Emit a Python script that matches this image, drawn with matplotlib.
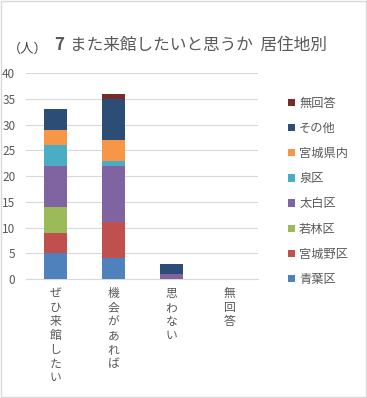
import numpy as np
import matplotlib.pyplot as plt
from matplotlib.patches import Rectangle

plt.rcParams['font.family'] = ['Noto Sans CJK JP', 'DejaVu Sans']

# Data
categories = ['ぜひ来館したい', '機会があれば', '思わない', '無回答']
series_names = ['青葉区', '宮城野区', '若林区', '太白区', '泉区', '宮城県内', 'その他', '無回答']
aoba = [5, 4, 0, 0]
miyagino = [4, 7, 0, 0]
wakabayashi = [5, 0, 0, 0]
taihaku = [8, 11, 1, 0]
izumi = [4, 1, 0, 0]
kennai = [3, 4, 0, 0]
sonota = [4, 8, 2, 0]
mukaito = [0, 1, 0, 0]
series_values = [aoba, miyagino, wakabayashi, taihaku, izumi, kennai, sonota, mukaito]
colors = ['#4F81BD', '#C0504D', '#9BBB59', '#8064A2', '#4BACC6', '#F79646', '#2C4D75', '#772C2A']

fig = plt.figure(figsize=(3.67, 3.98), dpi=100)
ax = fig.add_axes([0.072, 0.299, 0.632, 0.517])

x = np.arange(len(categories))
bottom = np.zeros(len(categories))
handles = []
for name, vals, c in zip(series_names, series_values, colors):
    h = ax.bar(x, vals, 0.4, bottom=bottom, color=c, label=name, zorder=3)
    handles.append(h)
    bottom += np.array(vals)

ax.set_xlim(-0.5, 3.5)
ax.set_ylim(0, 40)
ax.set_yticks(range(0, 41, 5))
ax.yaxis.grid(True, color='#D9D9D9', linewidth=0.8, zorder=0)
for s in ['top', 'right', 'left']:
    ax.spines[s].set_visible(False)
ax.spines['bottom'].set_color('#D9D9D9')
ax.tick_params(axis='y', length=0, labelsize=8.5, colors='#595959', pad=8)
ax.tick_params(axis='x', length=0, colors='#595959', pad=6)
ax.set_xticks(x)
ax.set_xticklabels(['\n'.join(c) for c in categories], va='top',
                   linespacing=1.1, fontsize=8.5)

leg = fig.legend(handles[::-1], series_names[::-1], loc='upper left',
                 bbox_to_anchor=(0.755, 0.785), frameon=False, fontsize=8.8,
                 handlelength=0.55, handleheight=0.55, handletextpad=0.35,
                 labelspacing=1.0, labelcolor='#595959')

fig.text(0.148, 0.887, '7', fontsize=12, fontweight='bold', color='#595959',
         ha='left', va='center')
fig.text(0.19, 0.887, 'また来館したいと思うか  居住地別', fontsize=12,
         color='#595959', ha='left', va='center')
fig.text(0.022, 0.877, '（人）', fontsize=9.5, color='#404040', ha='left', va='center')

fig.patches.append(Rectangle((0.002, 0.002), 0.995, 0.995, transform=fig.transFigure,
                             fill=False, edgecolor='#D9D9D9', linewidth=1))

fig.savefig('out.png', dpi=100, facecolor='white')
